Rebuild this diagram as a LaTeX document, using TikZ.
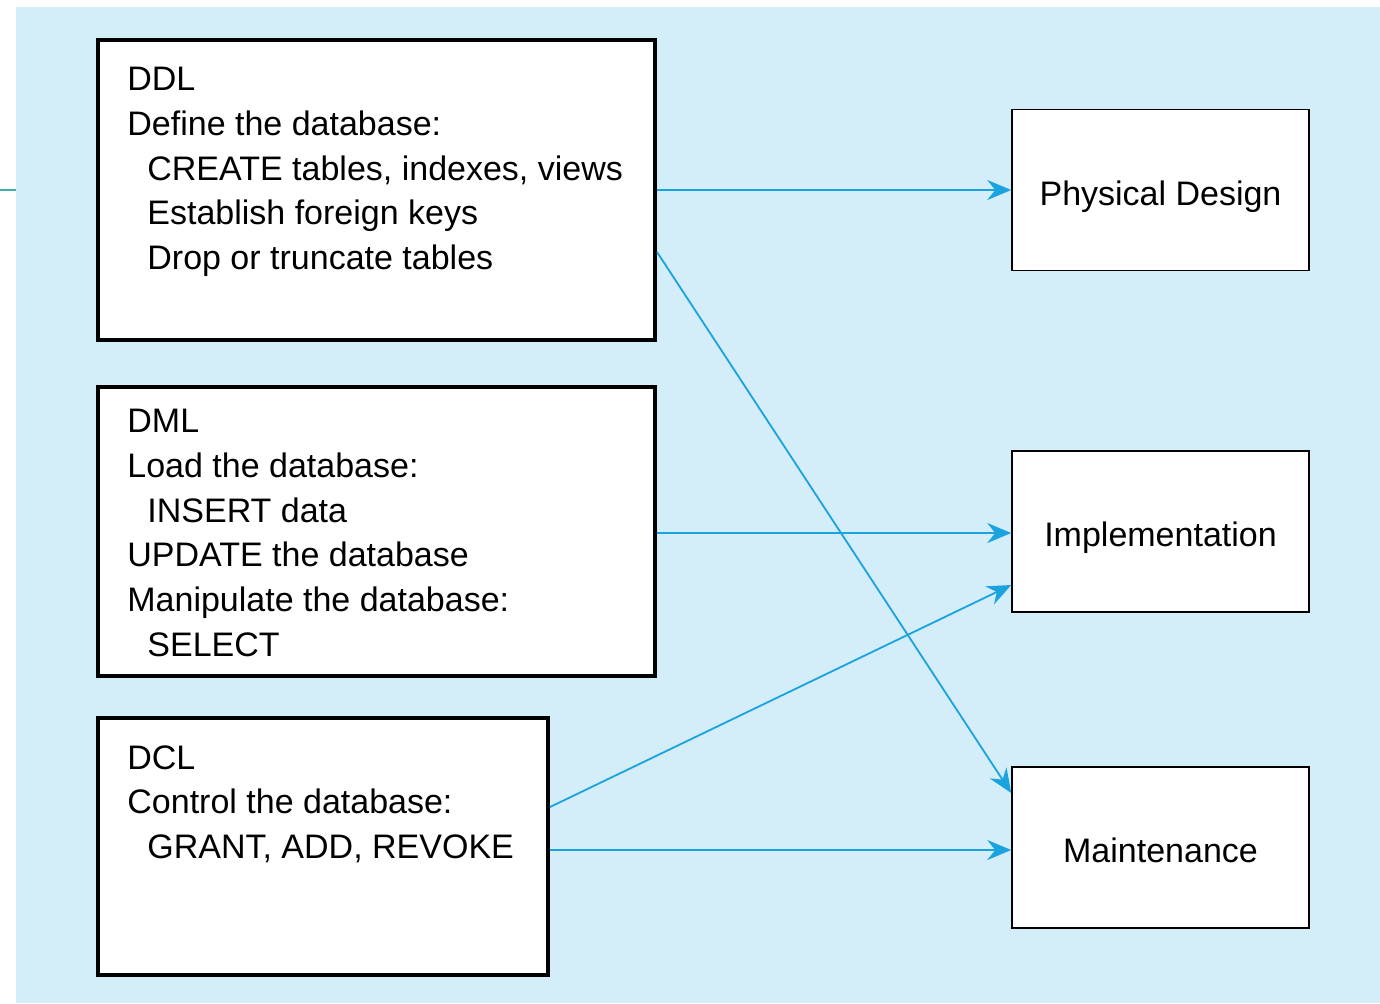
\documentclass[tikz,border=0pt]{standalone}
\usepackage{fontspec}
\setmainfont{Liberation Sans}
\usetikzlibrary{arrows.meta}
\definecolor{bgblue}{HTML}{D3EDF9}
\definecolor{arrowblue}{HTML}{1AA3DF}
\definecolor{tealline}{HTML}{3FAFB0}

\begin{document}
\begin{tikzpicture}[x=0.5pt,y=-0.5pt,
  lang/.style={draw=black, line width=2pt, fill=white, inner sep=0pt},
  phase/.style={draw=black, line width=0.75pt, fill=white, inner sep=0pt,
    minimum width=148.5pt, minimum height=80.5pt,
    text height=15pt, text depth=0pt,
    font=\fontsize{17pt}{20pt}\selectfont},
  body/.style={anchor=north west, inner sep=0pt, align=left,
    font=\fontsize{17pt}{22.35pt}\selectfont},
  flow/.style={draw=arrowblue, line width=0.9pt,
    -{Stealth[length=12pt,width=10pt,inset=4pt]}}]

\useasboundingbox (0,0) rectangle (1380,1003);
\fill[bgblue] (16,7) rectangle (1380,1003);
\draw[tealline, line width=0.75pt] (0,190) -- (16,190);

% SQL language groups
\node[lang, minimum width=278.5pt, minimum height=150pt] (ddl) at (376.5,190) {};
\node[lang, minimum width=278.5pt, minimum height=144.5pt] (dml) at (376.5,531.5) {};
\node[lang, minimum width=225pt, minimum height=128.5pt] (dcl) at (323,846.5) {};

\node[body] (ddltext) at (127,67) {DDL\\
Define the database:\\
\hspace*{10pt}CREATE tables, indexes, views\\
\hspace*{10pt}Establish foreign keys\\
\hspace*{10pt}Drop or truncate tables};

\node[body] (dmltext) at (127,409) {DML\\
Load the database:\\
\hspace*{10pt}INSERT data\\
UPDATE the database\\
Manipulate the database:\\
\hspace*{10pt}SELECT};

\node[body] (dcltext) at (127,745) {DCL\\
Control the database:\\
\hspace*{10pt}GRANT, ADD, REVOKE};

% Life-cycle phases
\node[phase] (phys) at (1160.5,190) {Physical Design};
\node[phase] (impl) at (1160.5,531.5) {Implementation};
\node[phase] (maint) at (1160.5,847.5) {Maintenance};

% Connections
\draw[flow] (ddl.east) -- (phys.west);
\draw[flow] ([yshift=-31pt]ddl.east) -- ([yshift=27.25pt]maint.west);
\draw[flow] ([yshift=-0.75pt]dml.east) -- ([yshift=-0.75pt]impl.west);
\draw[flow] ([yshift=19.75pt]dcl.east) -- ([yshift=-26.75pt]impl.west);
\draw[flow] ([yshift=-1.25pt]dcl.east |- maint.west) -- ([yshift=-1.25pt]maint.west);
\end{tikzpicture}
\end{document}
